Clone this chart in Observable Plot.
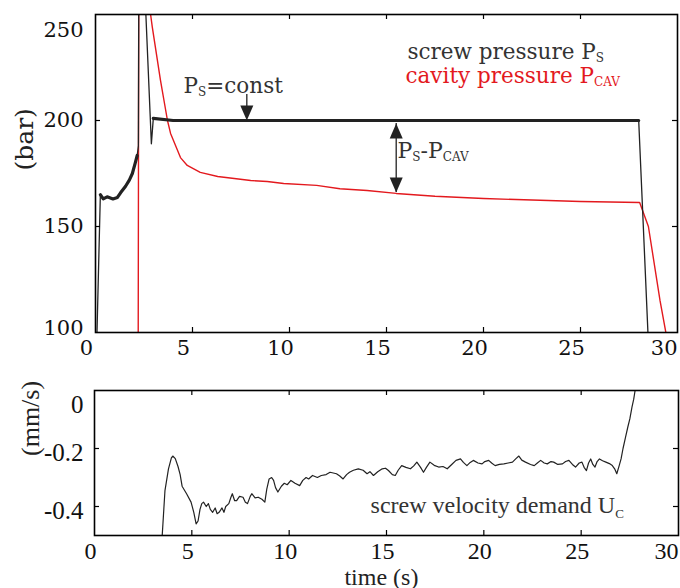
<!DOCTYPE html>
<html><head><meta charset="utf-8">
<script src="https://cdn.jsdelivr.net/npm/d3@7"></script>
<script src="https://cdn.jsdelivr.net/npm/@observablehq/plot@0.6"></script>
<style>
html,body{margin:0;padding:0;background:#fff;}
#chart{width:680px;}
#chart svg{display:block;}
#chart svg.top text{font-family:"DejaVu Serif","Liberation Serif",serif;}
#chart svg.bot text{font-family:"Liberation Serif","DejaVu Serif",serif;}
</style></head><body><div id="chart"></div>
<script>
// ---- data ----
const xTicks = [0, 5, 10, 15, 20, 25, 30];
const pTicks = [100, 150, 200, 250];
const vTicks = [0, -0.2, -0.4];
const vTickLabels = ["0", "-0.2", "-0.4"];

// screw pressure P_S (bar)
const screwT = [0.05, 0.25, 0.4, 0.6, 0.9, 1.13, 1.3, 1.55, 1.75, 1.9, 2.05, 2.15, 2.21, 2.24, 2.55, 2.88, 2.98, 4, 6, 8, 10, 12, 14, 16, 18, 20, 22, 24, 26, 27, 28.0, 28.5];
const screwP = [90, 165, 163, 164, 163, 163.7, 166, 169, 172, 175, 180, 183.5, 188, 290, 260, 189, 201, 200, 200, 200, 200, 200, 200, 200, 200, 200, 200, 200, 200, 200, 200, 95];

// cavity pressure P_CAV (bar)
const cavT = [2.2, 2.24, 2.7, 2.84, 2.93, 3.35, 3.71, 3.87, 4.38, 4.73, 5.4, 6.3, 8.0, 8.85, 9.7, 11.4, 12.6, 14.0, 15.5, 17.5, 20, 22.5, 25, 28.05, 28.5, 29.1, 29.4, 29.5];
const cavP = [90, 320, 290, 250, 243.9, 218.9, 200, 193.9, 182.5, 178.8, 175.5, 173.6, 171.7, 171.2, 170.3, 169.4, 167.8, 167.0, 165.6, 164.3, 163.2, 162.5, 161.8, 161.3, 150, 115, 100, 95];

// screw velocity demand U_C (mm/s)
const velT = [3.46,3.62,3.8,3.95,4.02,4.15,4.29,4.4,4.5,4.73,4.96,5.1,5.22,5.32,5.42,5.51,5.6,5.74,5.85,5.95,6.07,6.2,6.3,6.4,6.55,6.65,6.74,6.9,7.0,7.08,7.2,7.3,7.45,7.63,7.75,7.86,8.0,8.08,8.25,8.41,8.6,8.75,8.85,8.97,9.1,9.2,9.3,9.42,9.6,9.75,9.9,10.09,10.3,10.54,10.7,10.87,11.0,11.2,11.45,11.65,11.9,12.1,12.43,12.6,12.77,12.95,13.1,13.3,13.55,13.8,14.0,14.15,14.33,14.55,14.78,14.95,15.1,15.3,15.45,15.6,15.78,16.0,16.23,16.4,16.56,16.75,16.9,17.05,17.23,17.45,17.68,17.9,18.12,18.35,18.57,18.8,18.95,19.13,19.3,19.46,19.7,19.91,20.05,20.25,20.4,20.58,20.8,21.03,21.25,21.47,21.65,21.8,21.95,22.14,22.4,22.59,22.75,22.92,23.1,23.26,23.45,23.59,23.8,24.04,24.2,24.37,24.55,24.71,24.9,25.04,25.15,25.27,25.38,25.49,25.6,25.71,25.82,25.94,26.1,26.27,26.45,26.6,26.72,26.83,26.95,27.05,27.15,27.28,27.4,27.5,27.61,27.7,27.77,27.85];
const velV = [-0.52,-0.345,-0.27,-0.232,-0.226,-0.235,-0.262,-0.29,-0.33,-0.356,-0.385,-0.42,-0.46,-0.45,-0.41,-0.39,-0.385,-0.40,-0.39,-0.41,-0.42,-0.405,-0.425,-0.42,-0.405,-0.42,-0.40,-0.39,-0.37,-0.356,-0.38,-0.38,-0.365,-0.368,-0.385,-0.39,-0.365,-0.356,-0.37,-0.368,-0.375,-0.385,-0.34,-0.305,-0.3,-0.31,-0.335,-0.35,-0.33,-0.32,-0.325,-0.31,-0.32,-0.328,-0.31,-0.30,-0.305,-0.293,-0.3,-0.293,-0.29,-0.282,-0.287,-0.295,-0.305,-0.29,-0.282,-0.275,-0.27,-0.275,-0.287,-0.28,-0.293,-0.28,-0.27,-0.268,-0.276,-0.29,-0.293,-0.275,-0.259,-0.265,-0.27,-0.26,-0.247,-0.265,-0.282,-0.265,-0.247,-0.258,-0.264,-0.262,-0.27,-0.255,-0.241,-0.236,-0.248,-0.259,-0.248,-0.241,-0.25,-0.253,-0.245,-0.241,-0.25,-0.259,-0.255,-0.253,-0.25,-0.247,-0.235,-0.226,-0.24,-0.247,-0.255,-0.259,-0.25,-0.241,-0.25,-0.253,-0.245,-0.247,-0.255,-0.253,-0.245,-0.241,-0.255,-0.264,-0.25,-0.247,-0.265,-0.276,-0.25,-0.236,-0.255,-0.264,-0.245,-0.236,-0.242,-0.247,-0.252,-0.259,-0.27,-0.287,-0.26,-0.236,-0.2,-0.161,-0.125,-0.098,-0.057,-0.03,0.0,0.05];

// ---- helpers ----
const screw = screwT.map((t, i) => ({t, p: screwP[i]}));
const cav = cavT.map((t, i) => ({t, p: cavP[i]}));
const vel = velT.map((t, i) => ({t, v: velV[i]}));

const BLACK = "#222";
const RED = "#e3191e";
const TOPFONT = "DejaVu Serif";
const BOTFONT = "Liberation Serif";
const triDown = {draw(c) { c.moveTo(0, 0); c.lineTo(-6.5, -15); c.lineTo(6.5, -15); c.closePath(); }};
const triUp = {draw(c) { c.moveTo(0, 0); c.lineTo(-6.5, 15); c.lineTo(6.5, 15); c.closePath(); }};

function subscripts(svg, subSize, shift) {
  svg.querySelectorAll("text").forEach(t => {
    const s = t.textContent;
    if (!s.includes("_{")) return;
    const parts = s.split(/_\{([^}]*)\}/);
    t.textContent = "";
    let down = false;
    parts.forEach((p, i) => {
      const sub = i % 2 === 1;
      if (!p) return;
      const ts = document.createElementNS("http://www.w3.org/2000/svg", "tspan");
      ts.textContent = p;
      if (sub) { ts.setAttribute("font-size", subSize); ts.setAttribute("dy", shift); down = true; }
      else if (down) { ts.setAttribute("dy", -shift); down = false; }
      t.appendChild(ts);
    });
  });
}

// noisy plateau segments drawn heavier
const plateau = screw.filter(d => (d.t >= 0.25 && d.t <= 2.15) || (d.t >= 2.98 && d.t <= 28.0));

// ---- top panel: pressures ----
const pressurePlot = Plot.plot({
  width: 680, height: 365,
  marginTop: 14, marginBottom: 33, marginLeft: 95, marginRight: 3,
  style: "font-family: 'DejaVu Serif', serif; font-size: 21px; background: white; overflow: visible;",
  x: {domain: [0, 30], axis: null},
  y: {domain: [100, 250], axis: null},
  marks: [
    Plot.line(cav, {x: "t", y: "p", stroke: RED, strokeWidth: 1.4, clip: true}),
    Plot.line(screw, {x: "t", y: "p", stroke: BLACK, strokeWidth: 1.3, clip: true}),
    Plot.line(plateau, {x: "t", y: "p", z: d => d.t < 2.5 ? "a" : "b", stroke: BLACK, strokeWidth: 3.2, clip: true}),
    Plot.frame({stroke: "black", strokeWidth: 1.6}),
    Plot.ruleX(xTicks.slice(1, -1), {x: d => d, y1: 100, y2: 100, insetBottom: 5, stroke: "black", strokeWidth: 1.2}),
    Plot.ruleX(xTicks.slice(1, -1), {x: d => d, y1: 250, y2: 250, insetTop: 5, stroke: "black", strokeWidth: 1.2}),
    Plot.ruleY(pTicks.slice(1, -1), {y: d => d, x1: 0, x2: 0, insetLeft: 5, stroke: "black", strokeWidth: 1.2}),
    Plot.ruleY(pTicks.slice(1, -1), {y: d => d, x1: 30, x2: 30, insetRight: 5, stroke: "black", strokeWidth: 1.2}),
    Plot.text(xTicks.filter(d => d !== 30), {x: d => d, text: d => String(d), frameAnchor: "bottom", dy: 16, dx: -9, lineAnchor: "middle", fill: "#111", fontSize: 21, fontFamily: TOPFONT}),
    Plot.text(xTicks.filter(d => d === 30), {x: d => d, text: d => String(d), frameAnchor: "bottom", dy: 16, textAnchor: "end", lineAnchor: "middle", fill: "#111", fontSize: 21, fontFamily: TOPFONT}),
    Plot.text(pTicks.filter(d => d !== 250 && d !== 100), {y: d => d, text: d => String(d), frameAnchor: "left", dx: -12, textAnchor: "end", lineAnchor: "middle", fill: "#111", fontSize: 21, fontFamily: TOPFONT}),
    Plot.text(pTicks.filter(d => d === 250), {y: d => d, text: d => String(d), frameAnchor: "left", dx: -12, dy: 16, textAnchor: "end", lineAnchor: "middle", fill: "#111", fontSize: 21, fontFamily: TOPFONT}),
    Plot.text(pTicks.filter(d => d === 100), {y: d => d, text: d => String(d), frameAnchor: "left", dx: -12, dy: -4, textAnchor: "end", lineAnchor: "middle", fill: "#111", fontSize: 21, fontFamily: TOPFONT}),
    Plot.text(["(bar)"], {frameAnchor: "left", dx: -71, dy: -3, rotate: -90, fill: "#222", fontSize: 25, fontFamily: TOPFONT}),
    Plot.text(["screw pressure P_{S}"], {x: 16.08, y: 229.2, textAnchor: "start", lineAnchor: "bottom", fill: "#333", fontSize: 21.5, fontFamily: TOPFONT}),
    Plot.text(["cavity pressure P_{CAV}"], {x: 15.98, y: 217.6, textAnchor: "start", lineAnchor: "bottom", fill: RED, fontSize: 21.5, fontFamily: TOPFONT}),
    Plot.text(["P_{S}=const"], {x: 4.54, y: 213.2, textAnchor: "start", lineAnchor: "bottom", fill: "#333", fontSize: 21.5, fontFamily: TOPFONT}),
    Plot.ruleX([7.8], {x: d => d, y1: 212.3, y2: 206, stroke: BLACK, strokeWidth: 1.3}),
    Plot.dot([7.8], {x: d => d, y: 200, symbol: triDown, fill: BLACK, stroke: "none"}),
    Plot.text(["P_{S}-P_{CAV}"], {x: 15.57, y: 182.5, textAnchor: "start", lineAnchor: "bottom", fill: "#333", fontSize: 22, fontFamily: TOPFONT}),
    Plot.ruleX([15.5], {x: d => d, y1: 198.6, y2: 166, stroke: BLACK, strokeWidth: 1.3}),
    Plot.dot([15.5], {x: d => d, y: 198.6, symbol: triUp, fill: BLACK, stroke: "none"}),
    Plot.dot([15.5], {x: d => d, y: 166, symbol: triDown, fill: BLACK, stroke: "none"})
  ]
});
pressurePlot.classList.add("top");
subscripts(pressurePlot, "12px", 3);

// ---- bottom panel: velocity demand ----
const velocityPlot = Plot.plot({
  width: 680, height: 223,
  marginTop: 25, marginBottom: 53, marginLeft: 94, marginRight: 2,
  style: "font-family: 'Liberation Serif', serif; font-size: 25px; background: white; overflow: visible;",
  x: {domain: [0, 30], axis: null},
  y: {domain: [-0.5, 0], axis: null},
  marks: [
    Plot.line(vel, {x: "t", y: "v", stroke: BLACK, strokeWidth: 1.2, clip: true}),
    Plot.frame({stroke: "black", strokeWidth: 1.6}),
    Plot.ruleX(xTicks.slice(1, -1), {x: d => d, y1: -0.5, y2: -0.5, insetBottom: 5, stroke: "black", strokeWidth: 1.2}),
    Plot.ruleX(xTicks.slice(1, -1), {x: d => d, y1: 0, y2: 0, insetTop: 5, stroke: "black", strokeWidth: 1.2}),
    Plot.ruleY(vTicks.slice(1), {y: d => d, x1: 0, x2: 0, insetLeft: 5, stroke: "black", strokeWidth: 1.2}),
    Plot.ruleY(vTicks.slice(1), {y: d => d, x1: 30, x2: 30, insetRight: 5, stroke: "black", strokeWidth: 1.2}),
    Plot.text(xTicks.filter(d => d !== 30), {x: d => d, text: d => String(d), frameAnchor: "bottom", dy: 16, dx: -4, lineAnchor: "middle", fill: "#111", fontSize: 24, fontFamily: BOTFONT}),
    Plot.text(xTicks.filter(d => d === 30), {x: d => d, text: d => String(d), frameAnchor: "bottom", dy: 16, textAnchor: "end", lineAnchor: "middle", fill: "#111", fontSize: 24, fontFamily: BOTFONT}),
    Plot.text(vTicks.filter(d => d !== 0), {y: d => d, text: d => vTickLabels[vTicks.indexOf(d)], frameAnchor: "left", dx: -11, dy: 4.5, textAnchor: "end", lineAnchor: "middle", fill: "#111", fontSize: 25, fontFamily: BOTFONT}),
    Plot.text(vTicks.filter(d => d === 0), {y: d => d, text: d => vTickLabels[vTicks.indexOf(d)], frameAnchor: "left", dx: -11, dy: 14, textAnchor: "end", lineAnchor: "middle", fill: "#111", fontSize: 25, fontFamily: BOTFONT}),
    Plot.text(["(mm/s)"], {frameAnchor: "left", dx: -64, dy: -7, rotate: -90, fill: "#222", fontSize: 26, fontFamily: BOTFONT}),
    Plot.text(["time (s)"], {x: 14.74, frameAnchor: "bottom", dy: 49, lineAnchor: "bottom", fill: "#222", fontSize: 24, fontFamily: BOTFONT}),
    Plot.text(["screw velocity demand U_{C}"], {x: 14.18, y: -0.4207, textAnchor: "start", lineAnchor: "bottom", fill: "#333", fontSize: 24, fontFamily: BOTFONT})
  ]
});
velocityPlot.classList.add("bot");
subscripts(velocityPlot, "13px", 5);

const chart = document.getElementById("chart");
chart.appendChild(pressurePlot);
chart.appendChild(velocityPlot);
</script>
</body></html>
